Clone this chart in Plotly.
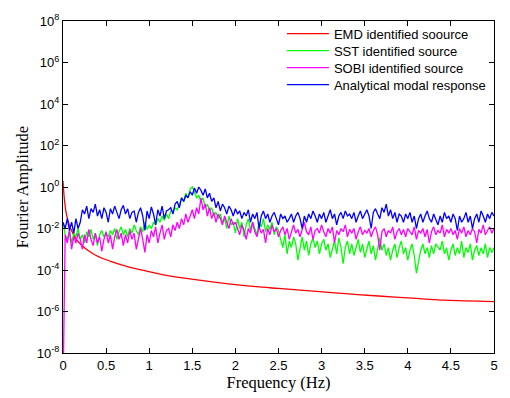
import numpy as np
import plotly.graph_objects as go

# ---- data ----
emd_freq = [0, 0.01, 0.02, 0.035, 0.05, 0.075, 0.1, 0.15, 0.225, 0.3, 0.385, 0.57, 0.76,
            1.0, 1.15, 1.535, 1.92, 2.31, 2.5, 2.9, 3.28, 3.66, 4.05, 4.43, 5.0]
emd_amp = [2.0, 0.5, 0.178, 0.063, 0.0316, 0.0141, 0.0079, 0.00316, 0.00145, 8.3e-4,
           5.0e-4, 2.45e-4, 1.41e-4, 8.3e-5, 6.0e-5, 3.4e-5, 2.14e-5, 1.48e-5, 1.29e-5,
           9.5e-6, 7.2e-6, 5.6e-6, 4.4e-6, 3.5e-6, 3.0e-6]

sst_amp = [
    2e-2, 5e-3, 3e-3, 8e-3, 2e-3, 6e-3, 4e-3, 1e-2, 3e-3, 5e-3, 2e-3, 7e-3, 4e-3, 9e-3, 3e-3, 6e-3, 1.5e-3, 5e-3, 8e-3, 4e-3, 6e-3,
    4e-3, 8e-3, 5e-3, 1e-2, 3e-3, 7e-3, 1.2e-2, 5e-3, 9e-3, 4e-3, 1e-2, 6e-3, 1.5e-2, 8e-3, 5e-3, 1.2e-2, 7e-3, 2e-2, 9e-3, 1.4e-2,
    1e-2, 2e-2, 1.5e-2, 3e-2, 2e-2, 4e-2, 2.5e-2, 5e-2, 3e-2, 7e-2, 6e-2, 1e-1,
    8e-2, 1.5e-1, 3e-1, 2e-1, 5e-1, 3e-1, 8e-1, 1e0, 5e-1, 3e-1,
    4e-1, 2e-1, 3e-1, 1e-1, 1.5e-1, 7e-2, 1e-1, 4e-2, 6e-2, 3e-2,
    5e-2, 2e-2, 3e-2, 1e-2, 4e-2, 1.5e-2, 2e-2, 6e-3, 3e-2, 1e-2, 2e-2, 4e-3, 1.5e-2, 3e-2, 8e-3, 2e-2, 1e-2, 5e-3, 2e-2, 1.2e-2,
    3e-2, 7e-3, 1.5e-2, 9e-3, 2e-2, 5e-3, 1.2e-2, 8e-3,
    3e-3, 1.2e-3, 5e-3, 6e-4, 2.5e-3, 1.2e-3, 4e-3, 1.8e-3, 3e-4, 1.2e-3, 4e-3, 9e-4, 2.5e-3, 5e-4, 1.8e-3, 3.5e-3, 1.2e-3, 2.5e-3, 6e-4, 1.8e-3,
    3e-3, 9e-4, 1.8e-3, 4e-4, 1.2e-3, 2.5e-3, 6e-4, 3.5e-3, 1.2e-3, 2e-4, 1.2e-3, 2.5e-3, 6e-4, 1.8e-3, 5e-4, 1.2e-3, 3e-3, 7e-4, 1.8e-3, 4e-4,
    1.2e-3, 2.5e-3, 6e-4, 1.5e-3, 3e-4, 1.2e-3, 3.5e-3, 9e-4, 1.8e-3, 5e-4, 1.2e-3, 3e-4, 9e-4, 1.8e-3, 4e-4, 1.2e-3, 2.5e-3, 6e-4, 1.2e-3, 3e-4,
    9e-4, 1.8e-3, 5e-4, 7e-5, 2.5e-4, 9e-4, 1.8e-3, 6e-4, 1.2e-3, 4e-4, 1.5e-3, 6e-4, 1.8e-3, 1.2e-3, 9e-4, 2.5e-3, 6e-4, 1.2e-3, 3e-4, 9e-4,
    1.8e-3, 5e-4, 1.2e-3, 6e-4, 2.5e-3, 4e-4, 1.2e-3, 7e-4, 1.8e-3, 3e-4, 9e-4, 1.5e-3, 5e-4, 1.2e-3, 6e-4, 1.8e-3, 4e-4, 1.2e-3, 7e-4, 1.2e-3,
]

sobi_amp = [
    1e-10,
    5e-3, 2e-3, 8e-3, 1e-3, 4e-3, 2e-3, 6e-3, 3e-3, 1e-3, 5e-3, 2e-3, 9e-3, 3e-3, 1.5e-3, 6e-3, 2e-3,
    4e-3, 8e-4, 3e-3, 7e-3, 2e-3, 5e-3, 1e-3, 4e-3, 9e-3, 3e-3, 6e-3, 1.5e-3, 5e-3, 2e-3, 8e-3, 3e-3,
    6e-3, 1e-3, 4e-3, 1e-2, 3e-3, 7e-4, 5e-3, 2e-3, 8e-3, 4e-3, 1.2e-2, 2e-3, 6e-3, 1.5e-2, 3e-3, 8e-3,
    1e-2, 4e-3, 1.5e-2, 8e-3, 2e-2, 1e-2, 3e-2, 1.5e-2, 5e-2, 2e-2, 4e-2, 8e-2, 3e-2, 1e-1, 5e-2, 3e-1,
    8e-2, 1.5e-1, 4e-2, 1e-1, 3e-2, 6e-2, 2e-2, 5e-2, 3e-2, 1.5e-2, 4e-2, 2e-2, 1e-2, 3e-2, 1.5e-2, 2e-2,
    1e-2, 5e-3, 1.5e-2, 8e-3, 3e-3, 1e-2, 6e-3, 2e-2, 7e-3, 4e-3, 1.2e-2, 6e-3, 9e-3, 2e-3, 1e-2, 5e-3, 1.5e-2, 7e-3, 1e-2, 4e-3,
    8e-3, 1.2e-2, 5e-3, 1e-2, 3e-3, 7e-3, 1.5e-2, 6e-3, 9e-3, 4e-3, 1e-2, 2e-2, 7e-3, 5e-3, 1.2e-2, 3e-3, 8e-3, 1e-2, 6e-3, 1.5e-2,
    7e-3, 4e-3, 1e-2, 6e-3, 1.2e-2, 2e-3, 8e-3, 5e-3, 1e-2, 7e-3, 1.5e-2, 4e-3, 9e-3, 6e-3, 1e-2, 3e-3, 7e-3, 1.2e-2, 5e-3, 8e-3,
    6e-3, 1e-2, 4e-3, 8e-3, 1.2e-2, 5e-3, 9e-4, 7e-3, 1e-2, 4e-3, 8e-3, 6e-3, 1.2e-2, 3e-3, 7e-3, 1e-2, 5e-3, 9e-3, 4e-3, 1e-2,
    7e-3, 5e-3, 1.2e-2, 3e-3, 8e-3, 6e-3, 1e-2, 4e-3, 9e-3, 2e-3, 7e-3, 1.2e-2, 5e-3, 8e-3, 6e-3, 1.5e-2, 4e-3, 9e-3, 6e-3, 1e-2,
    5e-3, 8e-3, 3e-3, 1e-2, 6e-3, 1.2e-2, 4e-3, 8e-3, 5e-3, 1e-2, 7e-3, 2e-3, 9e-3, 6e-3, 1.5e-2, 5e-3, 8e-3, 1.2e-2, 6e-3, 1e-2,
]

analytical_amp = [
    2e-2, 1e-2, 3e-2, 8e-3, 2e-2, 6e-3, 3e-2, 1e-2, 2e-2,
    8e-2, 5e-2, 1.2e-1, 3e-2, 9e-2, 6e-2, 1.5e-1, 4e-2, 8e-2, 3e-2, 1e-1, 6e-2, 2e-2, 9e-2, 5e-2, 1.2e-1, 6e-2, 3e-2, 8e-2, 1.3e-1, 5e-2, 9e-2, 3e-2, 6e-2,
    7e-2, 2e-2, 6e-2, 1e-1, 4e-2, 8e-3, 7e-2, 3e-2, 1.1e-1, 5e-2, 1.5e-2, 8e-2, 4e-2, 1.2e-1, 3e-2, 7e-2,
    8e-2, 1e-1, 5e-2, 1.5e-1, 2e-1, 1e-1, 3e-1, 2e-1, 4e-1, 3e-1,
    6e-1, 4e-1, 9e-1, 5e-1, 1e0, 7e-1, 4e-1, 8e-1, 3e-1, 5e-1,
    2e-1, 3e-1, 1e-1, 2e-1, 7e-2, 1.5e-1, 1e-1, 5e-2, 1.2e-1, 8e-2, 4e-2, 9e-2,
    5e-2, 7e-2, 3e-2, 6e-2, 4e-2, 8e-2, 2e-2, 5e-2, 3e-2, 6e-2, 1e-2, 4e-2, 7e-2, 3e-2, 5e-2, 2e-2, 4e-2, 6e-2, 3e-2, 1.5e-2, 5e-2, 3e-2, 4e-2, 2e-2,
    3e-2, 5e-2, 2e-2, 4e-2, 6e-2, 3e-2, 1e-2, 4e-2, 2e-2, 5e-2, 3e-2, 7e-2, 4e-2, 2e-2, 5e-2, 3e-2, 6e-2, 2e-2, 4e-2, 8e-2, 3e-2, 5e-2, 1.5e-2, 4e-2, 6e-2, 3e-2, 7e-2, 4e-2,
    5e-2, 3e-2, 6e-2, 2e-2, 4e-2, 7e-2, 3e-2, 5e-2, 8e-2, 4e-2, 1e-2, 6e-2, 9e-2, 5e-2, 3e-2, 1e-1, 6e-2, 1.5e-1, 4e-2, 8e-2, 3e-2, 6e-2, 2e-2, 5e-2,
    4e-2, 2e-2, 5e-2, 3e-2, 6e-2, 2e-2, 4e-2, 1e-2, 3e-2, 5e-2, 2e-2, 4e-2, 7e-2, 3e-2, 2e-2, 5e-2, 3e-2, 1.5e-2, 4e-2, 2e-2,
    6e-2, 3e-2, 4e-2, 2e-2, 5e-2, 3e-2, 8e-3, 4e-2, 2e-2, 3e-2, 6e-2, 2e-2, 4e-2, 1e-2, 3e-2, 5e-2, 2e-2, 7e-2, 4e-2, 2e-2,
    5e-2, 3e-2, 6e-2, 4e-2,
]

series_names = ["EMD identified soource", "SST identified source",
                "SOBI identified source", "Analytical modal response"]
series_colors = ["#ff0000", "#00ff00", "#ff00ff", "#0000ff"]
x_ticks = [0, 0.5, 1, 1.5, 2, 2.5, 3, 3.5, 4, 4.5, 5]
x_tick_labels = ["0", "0.5", "1", "1.5", "2", "2.5", "3", "3.5", "4", "4.5", "5"]
y_ticks = [1e-8, 1e-6, 1e-4, 1e-2, 1e0, 1e2, 1e4, 1e6, 1e8]
y_tick_labels = ["10<sup>-8</sup>", "10<sup>-6</sup>", "10<sup>-4</sup>", "10<sup>-2</sup>",
                 "10<sup>0</sup>", "10<sup>2</sup>", "10<sup>4</sup>", "10<sup>6</sup>",
                 "10<sup>8</sup>"]

# ---- figure ----
legend_ids = ["legend", "legend2", "legend3", "legend4"]
fig = go.Figure()
fig.add_trace(go.Scatter(x=emd_freq, y=emd_amp, mode="lines", name=series_names[0],
                         legend=legend_ids[0],
                         line=dict(color=series_colors[0], width=1.3, shape="spline")))
for name, color, amp, lg in zip(series_names[1:], series_colors[1:],
                                [sst_amp, sobi_amp, analytical_amp], legend_ids[1:]):
    freq = np.linspace(0, 5, len(amp))
    fig.add_trace(go.Scatter(x=freq, y=amp, mode="lines", name=name, legend=lg,
                             line=dict(color=color, width=1.3)))

tick_font = dict(family="Liberation Sans, Arial, sans-serif", size=13, color="black")
title_font = dict(family="Liberation Serif, Times New Roman, serif", size=16.5, color="black")
axis_common = dict(showline=True, linecolor="black", linewidth=1, mirror="ticks",
                   ticks="inside", ticklen=5, tickcolor="black", showgrid=False,
                   zeroline=False, tickfont=tick_font)

fig.update_xaxes(range=[0, 5], tickvals=x_ticks, ticktext=x_tick_labels,
                 title=dict(text="Frequency (Hz)", standoff=2, font=title_font),
                 **axis_common)
fig.update_yaxes(type="log", range=[-8, 8], tickvals=y_ticks, ticktext=y_tick_labels,
                 title=dict(text="Fourier Amplitude", standoff=4, font=title_font),
                 **axis_common)

legend_rows_y = [0.962, 0.9108, 0.8596, 0.8085]
legend_common = dict(x=0.508, xanchor="left", yanchor="middle",
                     bgcolor="rgba(0,0,0,0)", borderwidth=0, itemwidth=42,
                     font=dict(family="Liberation Sans, Arial, sans-serif", size=13, color="black"))
layout_legends = {lg: dict(y=yy, **legend_common) for lg, yy in zip(legend_ids, legend_rows_y)}

fig.update_layout(
    width=510, height=398,
    margin=dict(l=63, r=13, t=15, b=41),
    paper_bgcolor="white", plot_bgcolor="white",
    showlegend=True,
    **layout_legends,
)

fig.write_html("out.html")
